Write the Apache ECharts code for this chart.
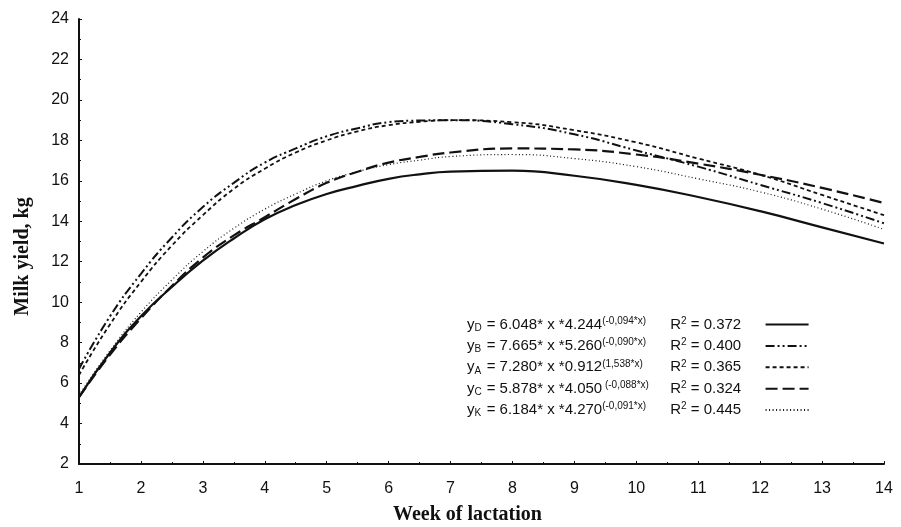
<!DOCTYPE html>
<html>
<head>
<meta charset="utf-8">
<script src="https://cdn.jsdelivr.net/npm/echarts@6/dist/echarts.min.js"></script>
<style>
  html, body { margin: 0; padding: 0; background: #fff; }
  #chart { width: 901px; height: 527px; }
</style>
</head>
<body>
<div id="chart"></div>
<script>
// week of lactation (half weeks where the curves bend most)
const weeks = [1, 1.5, 2, 2.5, 3, 3.5, 4, 4.5, 5, 5.5, 6, 6.5, 7, 8, 9, 10, 11, 12, 13, 14];
// milk yield, kg
const yieldD = [5.3, 7.5, 9.3, 10.75, 12.05, 13.15, 14.1, 14.8, 15.35, 15.75, 16.1, 16.32, 16.45, 16.5, 16.25, 15.8, 15.2, 14.5, 13.7, 12.9];
const yieldB = [6.7, 9.3, 11.4, 13.2, 14.7, 15.9, 16.9, 17.6, 18.2, 18.6, 18.9, 18.98, 19.0, 18.8, 18.3, 17.5, 16.7, 15.8, 14.9, 13.9];
const yieldA = [6.4, 8.9, 11.0, 12.8, 14.3, 15.6, 16.6, 17.4, 18.0, 18.45, 18.75, 18.92, 19.0, 18.9, 18.5, 17.9, 17.1, 16.3, 15.3, 14.3];
const yieldC = [5.3, 7.4, 9.2, 10.8, 12.2, 13.3, 14.2, 15.1, 15.9, 16.45, 16.9, 17.18, 17.4, 17.6, 17.55, 17.3, 16.85, 16.3, 15.65, 14.9];
const yieldK = [5.4, 7.6, 9.5, 11.1, 12.5, 13.65, 14.6, 15.35, 16.0, 16.45, 16.8, 17.02, 17.2, 17.3, 17.1, 16.7, 16.1, 15.45, 14.6, 13.6];

// legend text pieces
const groups = ['D', 'B', 'A', 'C', 'K'];
const coefA = ['6.048', '7.665', '7.280', '5.878', '6.184'];
const coefB = ['4.244', '5.260', '0.912', '4.050', '4.270'];
const expo = ['(-0,094*x)', '(-0,090*x)', '(1,538*x)', ' (-0,088*x)', '(-0,091*x)'];
const rSq = ['0.372', '0.400', '0.365', '0.324', '0.445'];

const ink = '#111';
const dashes = {
  D: 'solid',
  B: [9, 3, 2, 3, 2, 3],
  A: [4, 3],
  C: [12, 5],
  K: [1, 2.5]
};
const widths = { D: 2.2, B: 2, A: 1.8, C: 2.2, K: 1.2 };
const values = { D: yieldD, B: yieldB, A: yieldA, C: yieldC, K: yieldK };

const chart = echarts.init(document.getElementById('chart'));

const series = groups.map(g => ({
  name: g,
  type: 'line',
  smooth: true,
  symbol: 'none',
  silent: true,
  animation: false,
  lineStyle: { color: ink, width: widths[g], type: dashes[g] },
  itemStyle: { color: ink },
  data: weeks.map((w, i) => [w, values[g][i]])
}));

const txt = { fontFamily: 'Liberation Sans', color: ink, align: 'left' };

const option = {
  backgroundColor: '#fff',
  animation: false,
  grid: { left: 79, right: 17, top: 19, bottom: 63, outerBoundsMode: 'none', containLabel: false },
  legend: {
    orient: 'vertical',
    left: 462,
    top: 311,
    align: 'right',
    itemWidth: 43,
    itemHeight: 14,
    itemGap: 4.4,
    data: groups,
    itemStyle: { color: 'rgba(0,0,0,0)', borderWidth: 0 },
    formatter: name => {
      const i = groups.indexOf(name);
      return '{y|y}{s|' + name + '}{t| = ' + coefA[i] + '* x *' + coefB[i] + '}{p|' + expo[i] +
        '}{t|R}{q|2}{r| = ' + rSq[i] + '}';
    },
    textStyle: {
      color: ink,
      fontFamily: 'Liberation Sans',
      fontSize: 15,
      rich: {
        y: Object.assign({ fontSize: 15 }, txt),
        s: Object.assign({ fontSize: 10, width: 8, verticalAlign: 'bottom', padding: [7, 0, 0, 0] }, txt),
        t: Object.assign({ fontSize: 15 }, txt),
        p: Object.assign({ fontSize: 10, width: 68, verticalAlign: 'top', padding: [0, 0, 7, 0] }, txt),
        q: Object.assign({ fontSize: 10, verticalAlign: 'top', padding: [0, 0, 7, 0] }, txt),
        r: Object.assign({ fontSize: 15, width: 74 }, txt)
      }
    }
  },
  xAxis: {
    type: 'value',
    min: 1,
    max: 14,
    interval: 1,
    name: 'Week of lactation',
    nameLocation: 'middle',
    nameGap: 41,
    nameTextStyle: { fontFamily: 'Liberation Serif', fontWeight: 'bold', fontSize: 20, color: ink, padding: [0, 28, 0, 0] },
    axisLine: { lineStyle: { color: ink, width: 2 } },
    axisTick: { inside: true, length: 3, lineStyle: { color: ink } },
    minorTick: { show: true, splitNumber: 2, length: 2, lineStyle: { color: ink } },
    splitLine: { show: false },
    axisLabel: { color: ink, fontFamily: 'Liberation Sans', fontSize: 16, margin: 17 }
  },
  yAxis: {
    type: 'value',
    min: 2,
    max: 24,
    interval: 2,
    name: 'Milk yield, kg',
    nameLocation: 'middle',
    nameGap: 46,
    nameTextStyle: { fontFamily: 'Liberation Serif', fontWeight: 'bold', fontSize: 20, color: ink, padding: [0, 0, 0, -30] },
    axisLine: { show: true, lineStyle: { color: ink, width: 2 } },
    axisTick: { show: true, inside: true, length: 3, lineStyle: { color: ink } },
    minorTick: { show: true, splitNumber: 2, length: 2, lineStyle: { color: ink } },
    splitLine: { show: false },
    axisLabel: { color: ink, fontFamily: 'Liberation Sans', fontSize: 16, margin: 10 }
  },
  series: series
};

chart.setOption(option);
</script>
</body>
</html>
